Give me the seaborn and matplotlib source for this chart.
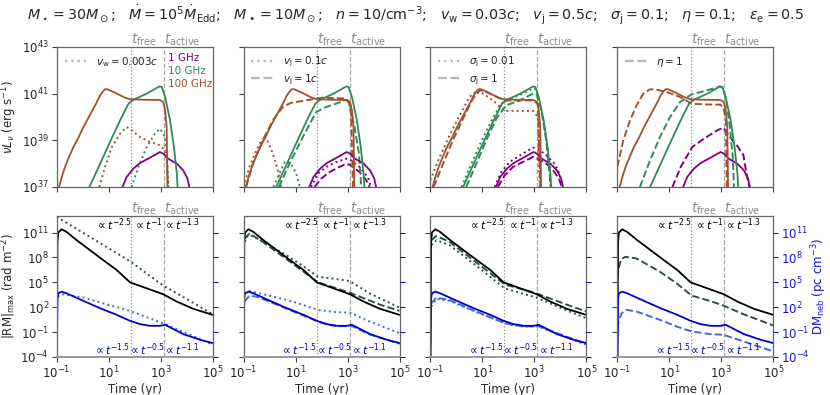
import numpy as np
import pandas as pd
import matplotlib
matplotlib.use("Agg")
import matplotlib.pyplot as plt
import seaborn as sns
from matplotlib.lines import Line2D
from matplotlib.ticker import FixedLocator, NullLocator
import matplotlib.transforms as mtransforms

# ---------------- data (log10 time [yr], log10 value) ----------------
t_free = 70.0
t_active = 1.3e3

# fiducial nuL_nu
fid1_t = [1.53, 1.69, 1.95, 2.21, 2.59, 2.97, 3.10, 3.29, 3.62, 3.87, 4.03, 4.10]
fid1_L = [37.0, 37.43, 37.79, 38.03, 38.26, 38.5, 38.43, 38.21, 38.0, 37.71, 37.36, 37.0]
fid10_t = [0.26, 0.67, 1.05, 1.44, 1.76, 1.95, 2.46, 2.95, 3.04, 3.17, 3.36, 3.51, 3.62, 3.65]
fid10_L = [37.0, 38.0, 38.93, 39.86, 40.57, 40.74, 41.0, 41.31, 41.29, 40.86, 39.86, 38.71, 37.57, 37.0]
fid100_t = [-0.91, -0.8, -0.68, -0.52, -0.36, -0.15, 0.03, 0.22, 0.41, 0.55, 0.67, 0.78, 0.86, 0.95, 1.05, 1.25, 1.44, 1.65, 1.82, 2.33, 2.97, 3.10, 3.17, 3.23, 3.26]
fid100_L = [37.0, 37.45, 37.86, 38.3, 38.71, 39.15, 39.57, 39.97, 40.36, 40.65, 40.93, 41.1, 41.19, 41.19, 41.14, 41.04, 40.93, 40.82, 40.76, 40.74, 40.73, 40.64, 40.29, 39.57, 37.0]

# panel 1: v_w = 0.003c
vw_10_t = [1.88, 2.14, 2.46, 2.78, 2.97, 3.17, 3.23, 3.29]
vw_10_L = [37.0, 37.86, 38.71, 39.29, 39.5, 39.14, 38.43, 37.0]
vw_100_t = [0.64, 0.86, 1.12, 1.44, 1.69, 1.88, 2.21, 2.59, 2.97, 3.17, 3.26, 3.29]
vw_100_L = [37.0, 37.86, 38.71, 39.29, 39.57, 39.43, 39.14, 38.93, 38.79, 38.57, 37.86, 37.0]

# panel 2: v_j = 0.1c (dotted), v_j = 1c (dashed)
vj01_1_t = [1.6, 1.86, 2.18, 2.56, 2.95, 3.14, 3.46, 3.78, 3.91]
vj01_1_L = [37.0, 37.57, 37.86, 38.07, 38.21, 38.14, 37.86, 37.43, 37.0]
vj01_10_t = [0.15, 0.38, 0.6, 0.83, 1.03, 1.17]
vj01_10_L = [37.0, 37.57, 38.1, 38.0, 37.57, 37.0]
vj01_100_t = [-1.0, -0.77, -0.51, -0.28, -0.06, 0.13, 0.32, 0.45]
vj01_100_L = [37.0, 37.86, 38.57, 39.05, 38.95, 38.43, 37.71, 37.0]
vj1_1_t = [1.73, 1.99, 2.31, 2.69, 2.95, 3.14, 3.46, 3.72, 3.85]
vj1_1_L = [37.0, 37.36, 37.64, 37.86, 38.0, 37.93, 37.64, 37.29, 37.0]
vj1_10_t = [0.36, 0.77, 1.28, 1.79, 2.18, 2.56, 2.95, 3.08, 3.27, 3.44, 3.53]
vj1_10_L = [37.0, 38.0, 39.14, 40.21, 40.43, 40.57, 40.74, 40.57, 39.57, 38.43, 37.0]
vj1_100_t = [-0.9, -0.64, -0.26, 0.13, 0.51, 0.83, 1.28, 1.79, 2.05, 2.95, 3.05, 3.14, 3.21]
vj1_100_L = [37.0, 38.0, 39.0, 39.86, 40.43, 40.61, 40.69, 40.79, 40.83, 40.79, 40.64, 40.14, 37.0]

# panel 3: sigma_j = 0.01 (dotted), sigma_j = 1 (dashed)
sj001_1_t = [1.47, 1.73, 2.05, 2.56, 2.95, 3.14, 3.46, 3.78, 3.97, 4.1]
sj001_1_L = [37.0, 37.64, 38.07, 38.43, 38.69, 38.64, 38.36, 38.0, 37.57, 37.0]
sj001_10_t = [0.2, 0.6, 1.0, 1.4, 1.76, 1.95, 2.46, 2.95, 3.04, 3.17, 3.36, 3.51, 3.6, 3.63]
sj001_10_L = [37.0, 38.05, 39.05, 39.95, 40.6, 40.72, 40.95, 41.22, 41.2, 40.8, 39.8, 38.6, 37.5, 37.0]
sj001_100_t = [-1.0, -0.64, -0.26, 0.13, 0.51, 0.83, 1.03, 1.41, 1.86, 2.31, 2.95, 3.14, 3.21]
sj001_100_L = [37.29, 38.29, 39.21, 40.07, 40.86, 41.17, 41.0, 40.71, 40.26, 40.26, 40.26, 40.0, 37.0]
sj1_1_t = [1.6, 1.86, 2.18, 2.56, 2.95, 3.14, 3.46, 3.78, 3.97, 4.05]
sj1_1_L = [37.0, 37.5, 37.86, 38.07, 38.29, 38.21, 38.0, 37.64, 37.29, 37.0]
sj1_10_t = [0.38, 0.77, 1.15, 1.54, 1.92, 2.44, 2.95, 3.08, 3.27, 3.46, 3.59, 3.63]
sj1_10_L = [37.0, 38.0, 39.0, 39.93, 40.5, 40.71, 41.0, 41.0, 40.29, 39.0, 37.57, 37.0]
sj1_100_t = [-0.87, -0.51, -0.13, 0.26, 0.64, 0.9, 1.09, 1.41, 1.86, 2.95, 3.14, 3.23]
sj1_100_L = [37.0, 38.0, 39.0, 39.93, 40.79, 41.14, 41.11, 40.93, 40.71, 40.71, 40.57, 37.0]

# panel 4: eta = 1 (dashed)
eta_1_t = [1.12, 1.44, 1.88, 2.33, 2.85, 3.08, 3.33, 3.65, 3.85, 3.97, 4.08]
eta_1_L = [37.0, 37.86, 38.71, 39.07, 39.43, 39.54, 39.14, 38.71, 38.36, 37.57, 37.0]
eta_10_t = [-0.13, 0.26, 0.64, 1.03, 1.41, 1.86, 2.44, 2.95, 3.08, 3.21, 3.33, 3.44, 3.49]
eta_10_L = [37.0, 38.14, 39.14, 40.0, 40.64, 40.97, 41.14, 41.31, 41.21, 40.57, 39.57, 38.29, 37.0]
eta_100_t = [-1.0, -0.77, -0.51, -0.26, 0.0, 0.26, 0.51, 0.9, 1.41, 1.86, 2.31, 2.95, 3.08, 3.18, 3.21]
eta_100_L = [37.86, 39.0, 39.86, 40.5, 41.0, 41.19, 41.17, 41.07, 40.86, 40.57, 40.54, 40.53, 40.43, 39.86, 37.0]

# fiducial |RM|_max and DM_neb
rm_fid_t = [-0.998, -0.97, -0.94, -0.81, -0.62, -0.23, 0.28, 0.79, 1.31, 1.82, 2.46, 3.10, 3.62, 4.26, 5.0]
rm_fid_v = [-4.5, 9.88, 11.0, 11.4, 11.08, 10.08, 8.88, 7.68, 6.48, 5.0, 4.28, 3.56, 2.68, 1.8, 1.08]
dm_fid_t = [-0.998, -0.97, -0.94, -0.81, -0.62, 0.03, 0.67, 1.31, 1.82, 2.21, 2.59, 2.97, 3.17, 3.87, 4.51, 5.0]
dm_fid_v = [-4.5, 3.0, 3.68, 3.88, 3.68, 2.76, 1.88, 1.08, 0.36, -0.04, -0.24, -0.24, -0.12, -1.24, -1.92, -2.32]

rm_vw_t = [-1.0, 0.4, 1.82, 3.1, 4.0, 5.0]
rm_vw_v = [12.9, 10.25, 7.55, 4.6, 3.0, 1.15]
dm_vw_t = [-0.97, -0.74, 0.03, 0.92, 1.82, 3.1, 4.13, 5.0]
dm_vw_v = [3.3, 3.56, 3.16, 2.35, 1.55, 0.05, -1.32, -2.52]

rm_vj01_t = [-0.96, -0.83, -0.64, 0.0, 0.64, 1.28, 1.86, 2.56, 3.08, 3.85, 5.0]
rm_vj01_v = [9.88, 10.68, 10.6, 9.48, 8.28, 7.0, 5.68, 5.4, 5.16, 3.68, 1.96]
rm_vj1_t = [-0.96, -0.77, -0.26, 0.79, 1.86, 3.08, 4.26, 5.0]
rm_vj1_v = [10.28, 10.88, 9.88, 7.5, 5.0, 3.76, 2.3, 1.56]
dm_vj01_t = [-0.96, -0.77, 0.0, 0.9, 1.86, 2.56, 3.08, 3.85, 5.0]
dm_vj01_v = [3.68, 3.96, 3.4, 2.68, 1.68, 1.4, 1.36, 0.28, -1.12]
dm_vj1_t = [-0.96, -0.77, -0.51, 0.0, 0.67, 1.31, 1.86, 2.21, 2.59, 2.97, 3.12, 3.87, 5.0]
dm_vj1_v = [2.68, 3.4, 3.28, 2.68, 1.8, 1.0, 0.28, -0.08, -0.28, -0.28, -0.2, -1.3, -2.4]

rm_sj001_t = [-0.96, -0.77, -0.26, 0.79, 1.86, 3.08, 4.26, 5.0]
rm_sj001_v = [9.48, 10.08, 9.48, 6.95, 4.28, 3.16, 1.6, 0.68]
rm_sj1_t = [-0.96, -0.77, -0.26, 0.79, 1.86, 3.08, 4.26, 5.0]
rm_sj1_v = [10.08, 10.6, 9.88, 7.35, 4.76, 3.68, 2.3, 1.48]
dm_sj001_t = [-0.96, -0.77, -0.26, 0.67, 1.86, 2.21, 2.59, 2.97, 3.12, 5.0]
dm_sj001_v = [2.08, 3.0, 2.76, 1.55, 0.08, -0.18, -0.32, -0.32, -0.28, -2.52]
dm_sj1_t = [-0.96, -0.77, -0.26, 0.67, 1.86, 2.21, 2.59, 2.97, 3.12, 5.0]
dm_sj1_v = [2.48, 3.16, 2.88, 1.6, 0.08, -0.15, -0.3, -0.3, -0.24, -2.44]

rm_eta_t = [-0.995, -0.97, -0.85, -0.68, -0.26, 0.64, 1.28, 1.86, 2.56, 3.08, 3.85, 5.0]
rm_eta_v = [5.5, 6.5, 7.8, 8.08, 7.88, 6.28, 4.88, 3.4, 2.76, 2.2, 1.16, -0.2]
dm_eta_t = [-0.98, -0.96, -0.83, -0.64, -0.26, 0.64, 1.28, 1.86, 2.56, 3.08, 3.85, 5.0]
dm_eta_v = [-0.5, 0.28, 1.28, 1.68, 1.48, 0.48, -0.32, -0.92, -1.24, -1.32, -2.12, -3.32]

# labels
title_text = (r"$M_\star=30M_\odot$;   $\dot{M}=10^5\dot{M}_{\rm Edd}$;   "
              r"$M_\bullet=10M_\odot$;   $n=10/{\rm cm}^{-3}$;   $v_{\rm w}=0.03c$;   "
              r"$v_{\rm j}=0.5c$;   $\sigma_{\rm j}=0.1$;   $\eta=0.1$;   $\varepsilon_{\rm e}=0.5$")
freq_labels = ["1 GHz", "10 GHz", "100 GHz"]
legend_labels = [
    [(":", r"$v_{\rm w}=0.003c$")],
    [(":", r"$v_{\rm j}=0.1c$"), ("--", r"$v_{\rm j}=1c$")],
    [(":", r"$\sigma_{\rm j}=0.01$"), ("--", r"$\sigma_{\rm j}=1$")],
    [("--", r"$\eta=1$")],
]
rm_slopes = [r"$\propto t^{-2.5}$", r"$\propto t^{-1}$", r"$\propto t^{-1.3}$"]
dm_slopes = [r"$\propto t^{-1.5}$", r"$\propto t^{-0.5}$", r"$\propto t^{-1.1}$"]

# ---------------- style ----------------
sns.set_style("ticks")
plt.rcParams['font.family'] = ['DejaVu Sans']
plt.rcParams['mathtext.fontset'] = 'dejavusans'

C1, C10, C100 = 'purple', 'seagreen', 'sienna'
CRM, CRM2, CDM, CDM2 = 'black', 'darkslategray', 'mediumblue', 'royalblue'
CBLUE_TXT = '#1515d0'
GRAY = '0.55'
SPINE = '0.4'

fig = plt.figure(figsize=(8.3, 3.95), dpi=100)
lefts = [56.7, 243.5, 430.3, 617.3]
W = 156.0
top_axes = [fig.add_axes([l / 830, 1 - 187 / 395, W / 830, 140 / 395]) for l in lefts]
bot_axes = [fig.add_axes([l / 830, 1 - 357 / 395, W / 830, 141 / 395]) for l in lefts]


def draw(ax, t, v, color, ls, lw=1.3):
    df = pd.DataFrame({'t': np.power(10.0, np.asarray(t, float)),
                       'v': np.power(10.0, np.asarray(v, float))})
    sns.lineplot(data=df, x='t', y='v', ax=ax, color=color, linestyle=ls,
                 linewidth=lw, sort=False, estimator=None, legend=False)


fid_top = [(fid1_t, fid1_L, C1), (fid10_t, fid10_L, C10), (fid100_t, fid100_L, C100)]
var_top = [
    [(vw_10_t, vw_10_L, C10, ':'), (vw_100_t, vw_100_L, C100, ':')],
    [(vj01_1_t, vj01_1_L, C1, ':'), (vj01_10_t, vj01_10_L, C10, ':'), (vj01_100_t, vj01_100_L, C100, ':'),
     (vj1_1_t, vj1_1_L, C1, '--'), (vj1_10_t, vj1_10_L, C10, '--'), (vj1_100_t, vj1_100_L, C100, '--')],
    [(sj001_1_t, sj001_1_L, C1, ':'), (sj001_10_t, sj001_10_L, C10, ':'), (sj001_100_t, sj001_100_L, C100, ':'),
     (sj1_1_t, sj1_1_L, C1, '--'), (sj1_10_t, sj1_10_L, C10, '--'), (sj1_100_t, sj1_100_L, C100, '--')],
    [(eta_1_t, eta_1_L, C1, '--'), (eta_10_t, eta_10_L, C10, '--'), (eta_100_t, eta_100_L, C100, '--')],
]
var_bot = [
    [(rm_vw_t, rm_vw_v, CRM2, ':'), (dm_vw_t, dm_vw_v, CDM2, ':')],
    [(rm_vj01_t, rm_vj01_v, CRM2, ':'), (dm_vj01_t, dm_vj01_v, CDM2, ':'),
     (rm_vj1_t, rm_vj1_v, CRM2, '--'), (dm_vj1_t, dm_vj1_v, CDM2, '--')],
    [(rm_sj001_t, rm_sj001_v, CRM2, ':'), (dm_sj001_t, dm_sj001_v, CDM2, ':'),
     (rm_sj1_t, rm_sj1_v, CRM2, '--'), (dm_sj1_t, dm_sj1_v, CDM2, '--')],
    [(rm_eta_t, rm_eta_v, CRM2, '--'), (dm_eta_t, dm_eta_v, CDM2, '--')],
]

xticks = [1e-1, 1e1, 1e3, 1e5]


def style_axis(ax):
    ax.set_xscale('log')
    ax.set_yscale('log')
    ax.set_xlim(1e-1, 1e5)
    ax.xaxis.set_major_locator(FixedLocator(xticks))
    ax.xaxis.set_minor_locator(NullLocator())
    ax.yaxis.set_minor_locator(NullLocator())
    for s in ax.spines.values():
        s.set_visible(True)
        s.set_color(SPINE)
        s.set_linewidth(0.9)
    ax.tick_params(direction='out', length=3.5, width=0.8, color='0.25', labelsize=8.5, pad=2)
    ax.axvline(t_free, color=GRAY, ls=':', lw=0.9, zorder=0.5)
    ax.axvline(t_active, color='0.65', ls='--', lw=0.9, zorder=0.5)
    trans = mtransforms.blended_transform_factory(ax.transData, ax.transAxes)
    ax.text(t_free, 0.995, r"$t_{\rm free}$", transform=trans, ha='left', va='bottom',
            color='0.55', fontsize=10)
    ax.text(t_active, 0.995, r"$t_{\rm active}$", transform=trans, ha='left', va='bottom',
            color='0.55', fontsize=10)


for i, ax in enumerate(top_axes):
    style_axis(ax)
    ax.set_ylim(1e37, 1e43)
    ax.yaxis.set_major_locator(FixedLocator([1e37, 1e39, 1e41, 1e43]))
    for (t, L, c, ls) in var_top[i]:
        draw(ax, t, L, c, ls, lw=1.4)
    for (t, L, c) in fid_top:
        draw(ax, t, L, c, '-')
    ax.set_xlabel('')
    ax.set_ylabel('')
    ax.tick_params(labelbottom=False)
    if i > 0:
        ax.tick_params(labelleft=False)
    handles = [Line2D([], [], color='0.72', ls=ls, lw=1.7) for ls, _ in legend_labels[i]]
    ax.legend(handles, [lab for _, lab in legend_labels[i]], loc='upper left', frameon=False,
              fontsize=7.5, handlelength=2.2, borderaxespad=0.35, labelspacing=0.3, handletextpad=0.8)

top_axes[0].set_ylabel(r"$\nu L_\nu$ (erg s$^{-1}$)", fontsize=8.5, labelpad=2)
for lab, c, y in zip(freq_labels, [C1, C10, C100], [0.925, 0.83, 0.735]):
    top_axes[0].text(0.715, y, lab, transform=top_axes[0].transAxes, color=c, fontsize=7.5,
                     ha='left', va='center')

bticks = [1e-4, 1e-1, 1e2, 1e5, 1e8, 1e11]
for i, ax in enumerate(bot_axes):
    style_axis(ax)
    ax.set_ylim(1e-4, 1e13)
    ax.yaxis.set_major_locator(FixedLocator(bticks))
    for (t, v, c, ls) in var_bot[i]:
        draw(ax, t, v, c, ls, lw=1.4)
    draw(ax, rm_fid_t, rm_fid_v, CRM, '-')
    draw(ax, dm_fid_t, dm_fid_v, CDM, '-')
    ax.set_xlabel('Time (yr)', fontsize=8.5, labelpad=1)
    ax.set_ylabel('')
    if i > 0:
        ax.tick_params(labelleft=False)
    ax.spines['bottom'].set_color('0.6')
    ax.spines['bottom'].set_linewidth(1.4)
    for lab, x in zip(rm_slopes, [0.362, 0.585, 0.80]):
        ax.text(x, 0.935, lab, transform=ax.transAxes, ha='center', va='center', fontsize=7.8, color='black')
    for lab, x in zip(dm_slopes, [0.353, 0.574, 0.80]):
        ax.text(x, 0.05, lab, transform=ax.transAxes, ha='center', va='center', fontsize=7.8, color=CDM)
    axr = ax.twinx()
    axr.set_yscale('log')
    axr.set_ylim(1e-4, 1e13)
    axr.yaxis.set_major_locator(FixedLocator(bticks))
    axr.yaxis.set_minor_locator(NullLocator())
    for s in axr.spines.values():
        s.set_visible(False)
    axr.tick_params(axis='y', direction='out', length=3.5, width=0.8, colors=CBLUE_TXT, labelsize=8.5, pad=2)
    if i < 3:
        axr.tick_params(labelright=False)
    else:
        axr.set_ylabel(r"${\rm DM}_{\rm neb}$ (pc cm$^{-3}$)", color=CBLUE_TXT, fontsize=8.5, labelpad=0)

bot_axes[0].set_ylabel(r"$|{\rm RM}|_{\rm max}$ (rad m$^{-2}$)", fontsize=8.5, labelpad=2)

fig.text(0.501, 0.962, title_text, ha='center', va='center', fontsize=10.3)

fig.savefig('out.png', dpi=100)
